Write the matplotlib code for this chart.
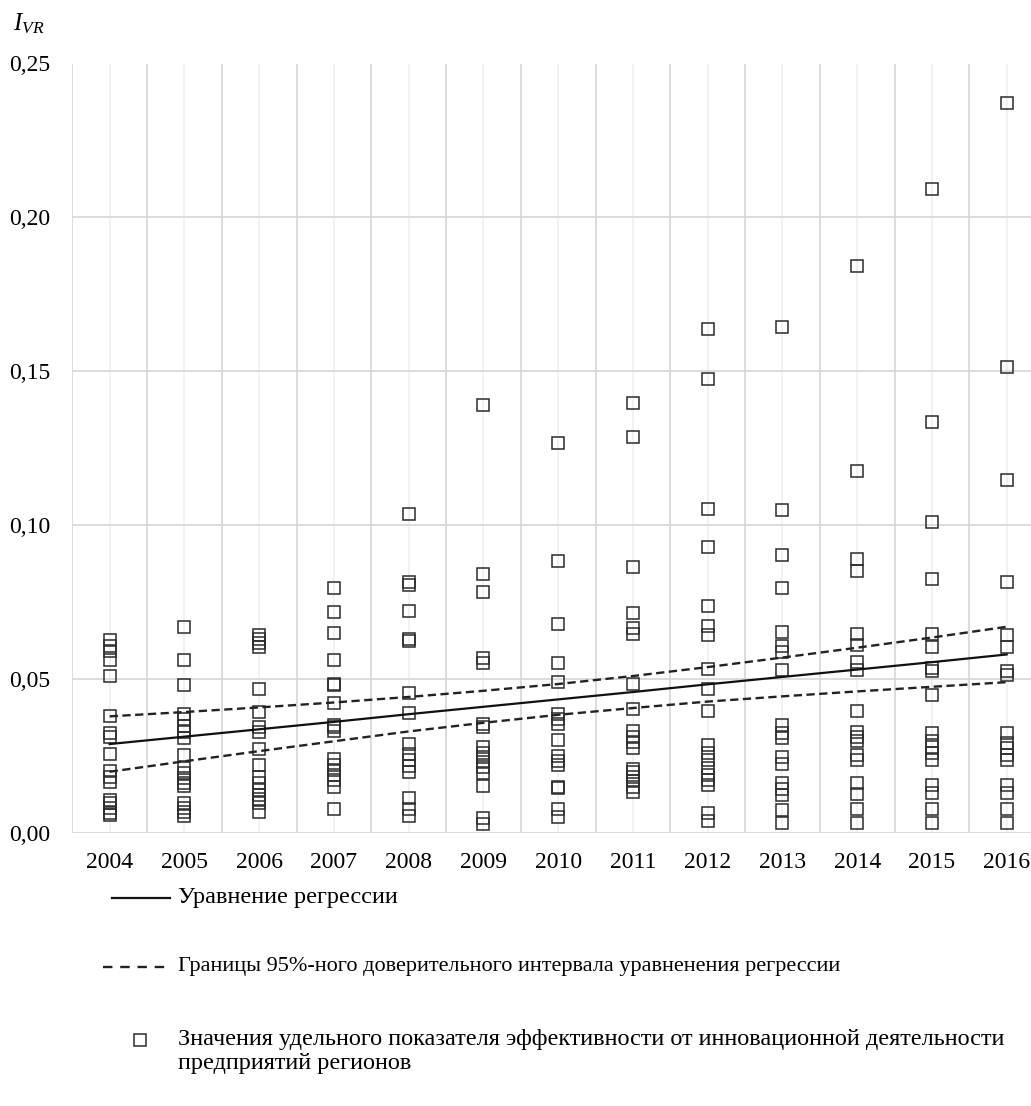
import matplotlib
matplotlib.use("Agg")
import matplotlib.pyplot as plt
from matplotlib.lines import Line2D
from matplotlib.ticker import FuncFormatter, MultipleLocator

plt.rcParams["font.family"] = ["Liberation Serif", "DejaVu Serif"]
plt.rcParams["mathtext.fontset"] = "custom"
plt.rcParams["mathtext.it"] = "Liberation Serif:italic"
plt.rcParams["mathtext.rm"] = "Liberation Serif"

# Years (category axis)
years = [2004, 2005, 2006, 2007, 2008, 2009, 2010, 2011, 2012, 2013, 2014, 2015, 2016]

# Specific efficiency index I_VR of regional enterprises, by year
v2004 = [0.0627, 0.0608, 0.059, 0.0562, 0.051, 0.038, 0.0324, 0.0311, 0.0256,
         0.0201, 0.0183, 0.0165, 0.0107, 0.0096, 0.0082, 0.0066, 0.0058]
v2005 = [0.0669, 0.0562, 0.048, 0.0387, 0.0369, 0.0348, 0.0329, 0.0308, 0.0254,
         0.021, 0.0194, 0.0178, 0.0163, 0.0154, 0.0098, 0.008, 0.0068, 0.0054]
v2006 = [0.0642, 0.0629, 0.0616, 0.0605, 0.0469, 0.0392, 0.0345, 0.0327, 0.0274,
         0.0221, 0.0183, 0.0163, 0.014, 0.0123, 0.0109, 0.0096, 0.0069]
v2007 = [0.0795, 0.0719, 0.0649, 0.0562, 0.0485, 0.048, 0.0421, 0.0351, 0.0343,
         0.033, 0.0239, 0.022, 0.0205, 0.0188, 0.0172, 0.015, 0.0077]
v2008 = [0.1037, 0.0816, 0.0805, 0.0722, 0.063, 0.0623, 0.0456, 0.0389, 0.0288,
         0.0256, 0.0237, 0.0218, 0.0198, 0.0115, 0.0079, 0.0054]
v2009 = [0.1389, 0.0843, 0.0782, 0.057, 0.0551, 0.0353, 0.0343, 0.028, 0.0261,
         0.0248, 0.0232, 0.0215, 0.0194, 0.0154, 0.005, 0.0029]
v2010 = [0.1267, 0.0885, 0.068, 0.0551, 0.049, 0.0386, 0.037, 0.0354, 0.0301,
         0.025, 0.0235, 0.0221, 0.015, 0.0145, 0.0077, 0.0053]
v2011 = [0.1397, 0.1287, 0.0863, 0.0714, 0.0665, 0.0648, 0.0484, 0.0404, 0.0331,
         0.0313, 0.0296, 0.0276, 0.0209, 0.0197, 0.0183, 0.017, 0.015, 0.0133]
v2012 = [0.1636, 0.1476, 0.1052, 0.0928, 0.0737, 0.0672, 0.0643, 0.0532, 0.0468,
         0.0396, 0.0285, 0.0259, 0.0237, 0.021, 0.0188, 0.0172, 0.0156, 0.0066, 0.004]
v2013 = [0.1644, 0.1049, 0.0903, 0.0795, 0.0654, 0.0607, 0.0587, 0.0531, 0.035,
         0.0324, 0.0308, 0.0246, 0.0224, 0.0161, 0.0142, 0.0123, 0.0074, 0.0031]
v2014 = [0.1841, 0.1176, 0.0889, 0.0852, 0.0648, 0.0611, 0.0555, 0.0531, 0.0396,
         0.0328, 0.0313, 0.03, 0.0255, 0.0237, 0.0161, 0.0127, 0.0077, 0.0031]
v2015 = [0.2091, 0.1335, 0.1011, 0.0825, 0.0645, 0.0603, 0.0535, 0.0527, 0.0449,
         0.0326, 0.0299, 0.028, 0.0259, 0.0237, 0.0156, 0.0131, 0.0077, 0.0031]
v2016 = [0.2372, 0.1514, 0.1146, 0.0814, 0.0642, 0.0603, 0.0527, 0.0513, 0.0326,
         0.0293, 0.0275, 0.0253, 0.0237, 0.0156, 0.0131, 0.0077, 0.0031]
values = [v2004, v2005, v2006, v2007, v2008, v2009, v2010,
          v2011, v2012, v2013, v2014, v2015, v2016]

# Regression line and its 95% confidence band
reg_line = [0.0289, 0.0313, 0.0337, 0.0361, 0.0386, 0.0410, 0.0434,
            0.0458, 0.0483, 0.0507, 0.0531, 0.0555, 0.0580]
ci_upper = [0.0379, 0.0393, 0.0408, 0.0424, 0.0442, 0.0462, 0.0484,
            0.0510, 0.0539, 0.0570, 0.0602, 0.0635, 0.0670]
ci_lower = [0.0199, 0.0233, 0.0266, 0.0298, 0.0330, 0.0358, 0.0384,
            0.0406, 0.0427, 0.0444, 0.0460, 0.0475, 0.0490]

W, H = 1031, 1106
fig = plt.figure(figsize=(W / 100, H / 100), dpi=100)
fig.patch.set_facecolor("white")

left_px, right_px, top_px, bottom_px = 72.3, 1044.0, 63.5, 833.0
ax = fig.add_axes([left_px / W, 1 - bottom_px / H,
                   (right_px - left_px) / W, (bottom_px - top_px) / H])
ax.set_xlim(2003.5, 2016.5)
ax.set_ylim(0, 0.25)

for s in ax.spines.values():
    s.set_visible(False)

ax.set_xticks(years)
ax.set_xticks([y - 0.5 for y in years], minor=True)
ax.yaxis.set_major_locator(MultipleLocator(0.05))
ax.yaxis.set_major_formatter(FuncFormatter(lambda v, p: f"{v:.2f}".replace(".", ",")))
ax.tick_params(axis="both", which="both", length=0)
ax.tick_params(axis="x", labelsize=17, pad=14)
ax.tick_params(axis="y", labelsize=17, pad=16)

ax.set_axisbelow(True)
ax.grid(axis="x", which="major", color="#efefef", lw=1.2)
ax.grid(axis="x", which="minor", color="#d9d9d9", lw=1.3)
ax.grid(axis="y", which="major", color="#d9d9d9", lw=1.3)

marker_kw = dict(ls="none", marker="s", mfc="none", mec="#2b2b2b", ms=8.6, mew=1.1)
for yr, vals in zip(years, values):
    ax.plot([yr] * len(vals), vals, clip_on=False, zorder=3, **marker_kw)

ax.plot(years, reg_line, color="#111111", lw=1.6, zorder=4)
dash = (0, (3.5, 1.9))
ax.plot(years, ci_upper, color="#222222", lw=1.7, ls=dash, zorder=4)
ax.plot(years, ci_lower, color="#222222", lw=1.7, ls=dash, zorder=4)

# Axis title
fig.text(13 / W, 1 - 30 / H, r"$I_{VR}$", fontsize=18, ha="left", va="baseline")

# Legend drawn below the plot in pixel coordinates
lax = fig.add_axes([0, 0, 1, 1])
lax.set_xlim(0, W)
lax.set_ylim(H, 0)
lax.axis("off")

fs = 17.5
lax.add_line(Line2D([112, 170], [898, 898], color="#111111", lw=1.6))
lax.text(178, 898, "Уравнение регрессии", fontsize=fs, va="center", ha="left")

lax.add_line(Line2D([103, 170], [967, 967], color="#222222", lw=1.7, ls=(0, (4, 3.3))))
lax.text(178, 967, "Границы 95%-ного доверительного интервала уравненения регрессии",
         fontsize=16, va="center", ha="left")

lax.plot([140], [1040], **marker_kw)
lax.text(178, 1040, "Значения удельного показателя эффективности от инновационной деятельности",
         fontsize=fs, va="center", ha="left")
lax.text(178, 1064, "предприятий регионов", fontsize=fs, va="center", ha="left")

fig.savefig("out.png", dpi=100, facecolor="white")
